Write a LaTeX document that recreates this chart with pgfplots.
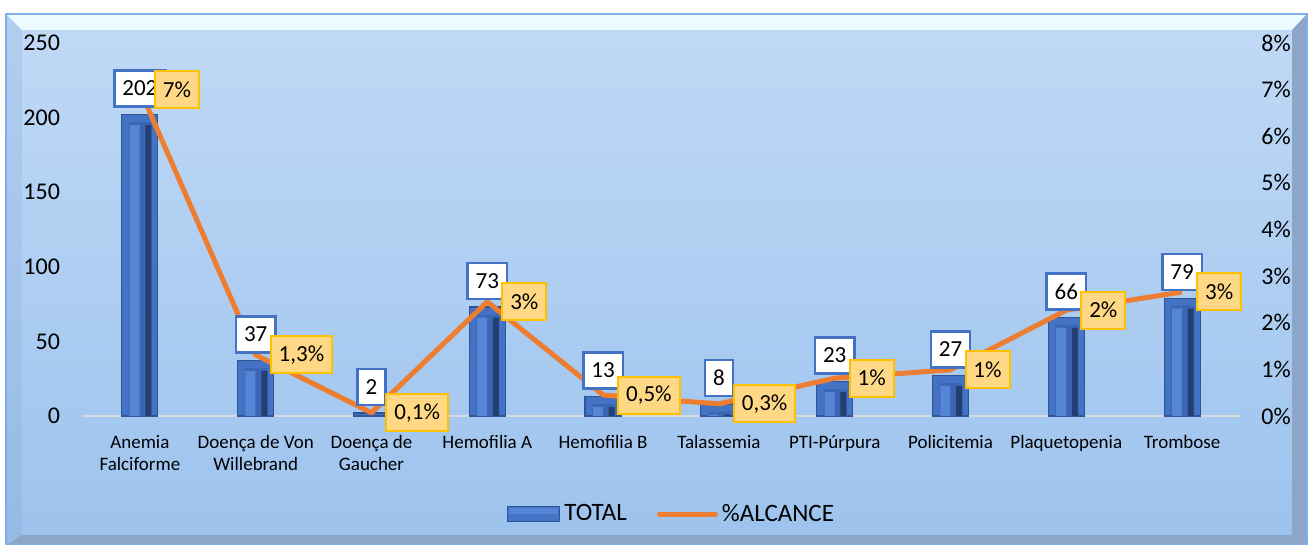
\documentclass[border=0pt]{standalone}
\usepackage{pgfplots}
\pgfplotsset{compat=1.18}
\usepackage{pgfplotstable}
\usepackage{fontspec}
\setmainfont{Carlito}

\definecolor{barblue}{HTML}{4472C4}
\definecolor{barlight}{HTML}{5585D6}
\definecolor{barmid}{HTML}{3A66B4}
\definecolor{bardark}{HTML}{233F72}
\definecolor{baredge}{HTML}{2F5597}
\definecolor{lineorange}{HTML}{ED7D31}
\definecolor{lblfill}{HTML}{FFD886}
\definecolor{lbledge}{HTML}{FFC000}
\definecolor{bgtop}{HTML}{BFD9F5}
\definecolor{bgbot}{HTML}{9DC3EE}
\definecolor{leftwalltop}{HTML}{B2CEEF}
\definecolor{leftwallbot}{HTML}{95BAE6}
\definecolor{wallside}{HTML}{8CA6C8}
\definecolor{walltop}{HTML}{EAFCFF}
\definecolor{frameblue}{HTML}{7EAEE2}
\definecolor{zerogray}{HTML}{D9D9D9}

% i = category index, total = count, pct = % alcance, lab = shown label
\pgfplotstableread{
i total pct  lab
0 202   7.00 7\%
1 37    1.31 1,3\%
2 2     0.07 0,1\%
3 73    2.45 3\%
4 13    0.45 0,5\%
5 8     0.26 0,3\%
6 23    0.81 1\%
7 27    0.99 1\%
8 66    2.27 2\%
9 79    2.66 3\%
}\datatab

\newcommand{\ticksize}{\fontsize{12}{14}\selectfont}
\newcommand{\catsize}{\fontsize{9.5}{11}\selectfont}
\newcommand{\lblsize}{\fontsize{11.5}{13}\selectfont}
\newcommand{\legsize}{\fontsize{12.5}{14}\selectfont}

\begin{document}
\begin{tikzpicture}
\useasboundingbox (-41pt,-64.5pt) rectangle (615pt,208pt);

% 3D frame, drawn in pixel units of the reference
\begin{scope}[x=0.5pt,y=-0.5pt,shift={(-41pt,208pt)}]
  \shade[top color=bgtop, bottom color=bgbot] (22,30) rectangle (1292,535);
  \shade[top color=leftwalltop, bottom color=leftwallbot] (6,14) -- (22,30) -- (22,535) -- (6,545) -- cycle;
  \fill[walltop] (6,14) -- (1307,14) -- (1292,30) -- (22,30) -- cycle;
  \fill[wallside] (1307,14) -- (1307,545) -- (1292,535) -- (1292,30) -- cycle;
  \fill[wallside] (6,545) -- (1307,545) -- (1292,535) -- (22,535) -- cycle;
  \draw[frameblue, line width=0.8pt] (6,14) rectangle (1307,545);
\end{scope}

\begin{axis}[
    at={(0,0)}, anchor=south west,
    scale only axis,
    width=579pt, height=186.5pt,
    xmin=-0.5, xmax=9.5,
    ymin=0, ymax=250,
    clip=false,
    axis line style={draw=none},
    major tick length=0pt,
    xtick={0,...,9},
    xticklabels={{Anemia\\Falciforme},{Doença de Von\\Willebrand},{Doença de\\Gaucher},
        {Hemofilia A},{Hemofilia B},{Talassemia},{PTI-Púrpura},{Policitemia},
        {Plaquetopenia},{Trombose}},
    xticklabel style={font=\catsize, align=center, anchor=north, yshift=-6pt},
    ytick={0,50,...,250},
    ytick pos=left,
    yticklabel style={font=\ticksize, xshift=-7.5pt},
    /pgf/number format/assume math mode=true,
    legend style={at={(0.51,-0.263)}, anchor=center, draw=none, fill=none,
        legend columns=2, font=\legsize, inner sep=0pt,
        /tikz/every even column/.append style={column sep=13pt}},
    legend cell align=left,
]
\draw[zerogray, line width=1pt] (axis cs:-0.5,0) -- (axis cs:9.5,0);

% TOTAL bars: outer bevel, inner face, highlight and shadow strips
\addplot[ybar, bar width=18pt, bar shift=0pt, draw=baredge, line width=0.6pt,
    fill=barblue,
    legend image code/.code={
        \draw[fill=barblue, draw=baredge, line width=0.6pt]
            (0pt,-3.75pt) rectangle (26pt,3.75pt);
        \fill[barlight] (1pt,0.5pt) rectangle (25pt,2.8pt);}]
    table[x=i, y=total] {\datatab};
\addlegendentry{TOTAL}
\addplot[ybar, bar width=11.5pt, bar shift=0.3pt, draw=none, forget plot, fill=barmid]
    table[x=i, y expr={max(\thisrow{total}-5,0)}] {\datatab};
\addplot[ybar, bar width=5pt, bar shift=-2.6pt, draw=none, forget plot, fill=barlight]
    table[x=i, y expr={max(\thisrow{total}-7,0)}] {\datatab};
\addplot[ybar, bar width=3pt, bar shift=4.3pt, draw=none, forget plot, fill=bardark]
    table[x=i, y expr={max(\thisrow{total}-7,0)}] {\datatab};

% %ALCANCE line (secondary scale 0-8 mapped onto 0-250)
\addplot[lineorange, line width=2.5pt, line join=round, mark=none,
    legend image code/.code={
        \draw[lineorange, line width=2.5pt, line cap=round] (0pt,0pt) -- (28pt,0pt);}]
    table[x=i, y expr=\thisrow{pct}*31.25] {\datatab};
\addlegendentry{\%ALCANCE}

% data labels for TOTAL
\addplot[draw=none, mark=none, forget plot, nodes near coords,
    every node near coord/.append style={anchor=south, yshift=3.5pt, fill=white,
        draw=barblue, line width=1.2pt, font=\lblsize, text=black,
        inner xsep=4pt, inner ysep=0pt, minimum height=18pt}]
    table[x=i, y=total] {\datatab};

% data labels for %ALCANCE
\addplot[draw=none, mark=none, forget plot, nodes near coords,
    point meta=explicit symbolic,
    every node near coord/.append style={anchor=west, xshift=7pt, fill=lblfill,
        draw=lbledge, line width=1pt, font=\lblsize, text=black,
        inner xsep=4pt, inner ysep=0pt, minimum height=18.5pt}]
    table[x=i, y expr=\thisrow{pct}*31.25, meta=lab] {\datatab};
\end{axis}

\begin{axis}[
    at={(0,0)}, anchor=south west,
    scale only axis,
    width=579pt, height=186.5pt,
    xmin=-0.5, xmax=9.5,
    ymin=0, ymax=8,
    axis y line*=right,
    hide x axis,
    axis line style={draw=none},
    major tick length=0pt,
    ytick={0,...,8},
    yticklabels={0\%,1\%,2\%,3\%,4\%,5\%,6\%,7\%,8\%},
    yticklabel style={font=\ticksize, xshift=7.2pt},
]
\addplot[draw=none, mark=none] coordinates {(0,0)};
\end{axis}
\end{tikzpicture}
\end{document}
